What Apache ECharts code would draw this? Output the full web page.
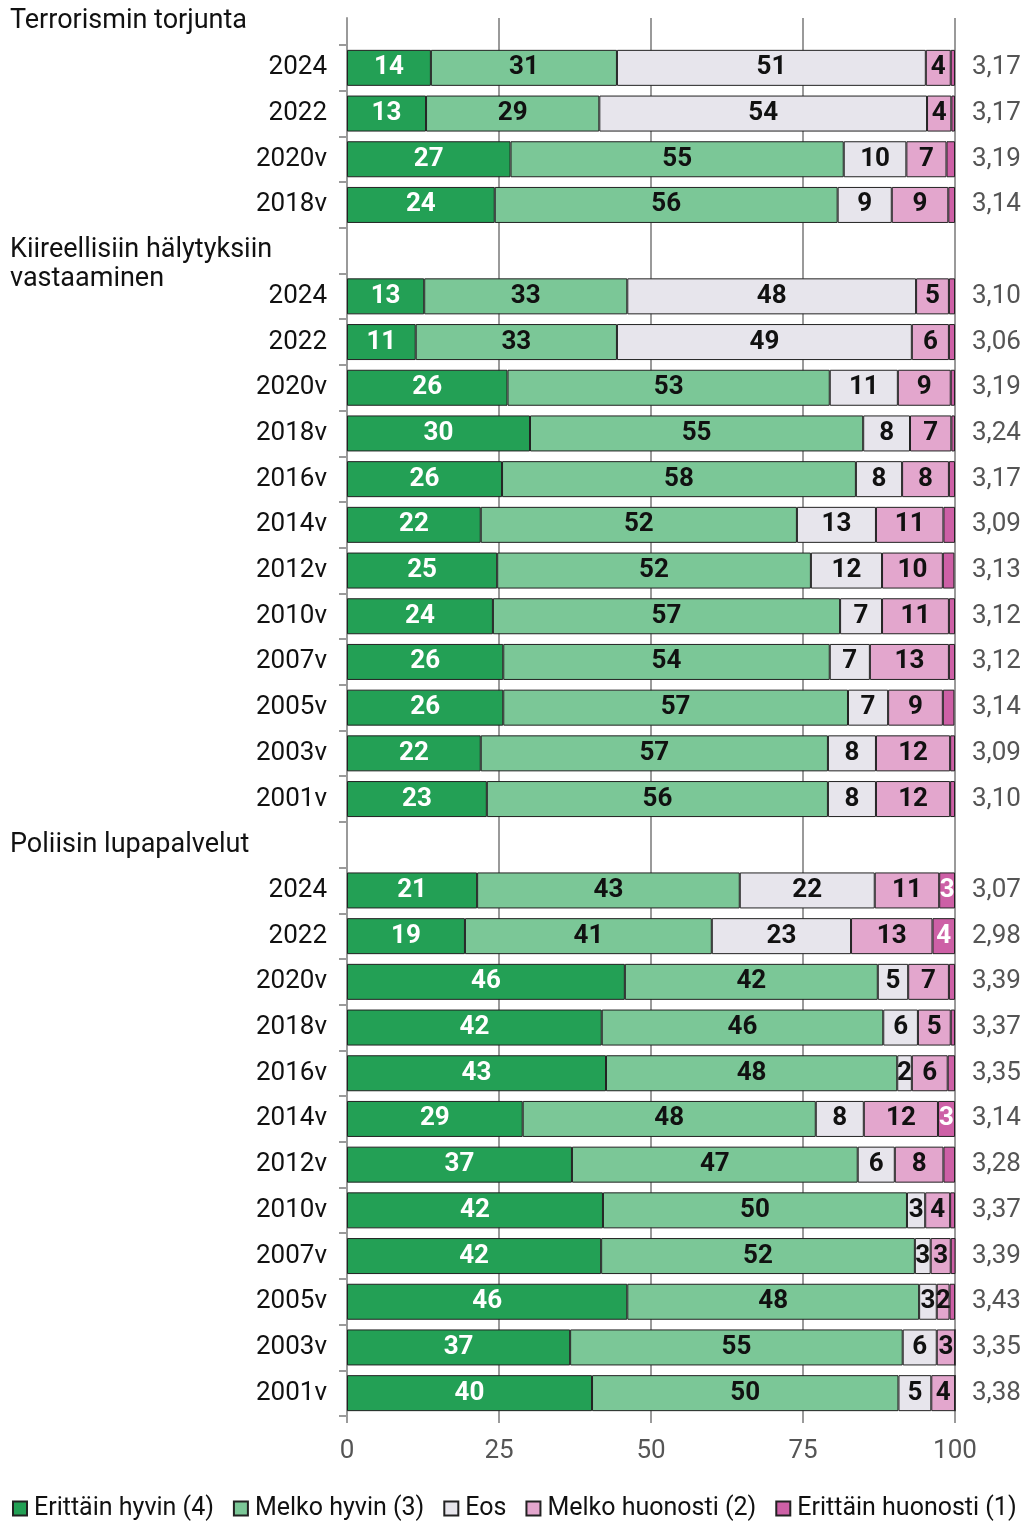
<!DOCTYPE html>
<html>
<head>
<meta charset="utf-8">
<script src="https://cdn.jsdelivr.net/npm/echarts@6/dist/echarts.min.js"></script>
<style>
html,body{margin:0;padding:0;background:#fff;}
#chart{width:1027px;height:1521px;}
</style>
</head>
<body>
<div id="chart"></div>
<script>
// ---- data ----
const rowLabels = [
  '2024','2022','2020v','2018v',
  '',
  '2024','2022','2020v','2018v','2016v','2014v','2012v','2010v','2007v','2005v','2003v','2001v',
  '',
  '2024','2022','2020v','2018v','2016v','2014v','2012v','2010v','2007v','2005v','2003v','2001v'];
const topGroupTitle = 'Terrorismin torjunta';
const groupHeaders = [
  '','','','',
  ' \nKiireellisiin hälytyksiin\nvastaaminen',
  '','','','','','','','','','','','',
  'Poliisin lupapalvelut',
  '','','','','','','','','','','',''];
const meanLabels = [
  '3,17','3,17','3,19','3,14',
  '',
  '3,10','3,06','3,19','3,24','3,17','3,09','3,13','3,12','3,12','3,14','3,09','3,10',
  '',
  '3,07','2,98','3,39','3,37','3,35','3,14','3,28','3,37','3,39','3,43','3,35','3,38'];
const seriesNames = ['Erittäin hyvin (4)','Melko hyvin (3)','Eos','Melko huonosti (2)','Erittäin huonosti (1)'];
const erittainHyvin = [13.8,13.0,26.9,24.3, null,
  12.7,11.3,26.4,30.1,25.5,22.0,24.7,24.0,25.7,25.7,22.0,23.0, null,
  21.4,19.4,45.7,41.9,42.6,28.9,37.0,42.1,41.8,46.1,36.7,40.3];
const melkoHyvin = [30.6,28.5,54.8,56.4, null,
  33.4,33.1,53.0,54.8,58.2,52.0,51.6,57.1,53.7,56.7,57.1,56.1, null,
  43.2,40.6,41.6,46.3,47.9,48.2,47.0,50.0,51.6,48.0,54.7,50.4];
const eos = [50.8,53.9,10.3,8.9, null,
  47.5,48.5,11.2,7.7,7.6,13.0,11.7,6.9,6.6,6.6,7.9,7.9, null,
  22.2,22.9,5.0,5.7,2.4,7.9,6.1,3.0,2.6,2.9,5.6,5.4];
const melkoHuonosti = [4.1,4.0,6.6,9.3, null,
  5.4,6.1,8.7,6.8,7.7,11.1,10.0,11.0,13.0,9.0,12.2,12.2, null,
  10.6,13.4,6.7,5.4,5.9,12.2,8.0,4.1,3.3,2.1,3.0,3.9];
const erittainHuonosti = [0.7,0.6,1.4,1.1, null,
  1.0,1.0,0.7,0.6,1.0,1.9,1.9,1.0,1.0,1.9,0.8,0.8, null,
  2.6,3.7,1.0,0.7,1.2,2.8,1.9,0.8,0.8,0.9,0,0];
const xTicks = [0,25,50,75,100];

// ---- styles ----
const FONT = 'Roboto';
const colors = ['#23a055','#7bc797','#e7e5ec','#e3a6cd','#cd60a6'];
const labelColors = ['#ffffff','#111111','#111111','#111111','#ffffff'];
const values = [erittainHyvin, melkoHyvin, eos, melkoHuonosti, erittainHuonosti];

const chart = echarts.init(document.getElementById('chart'), null, {renderer:'canvas'});
const series = values.map((d,i)=>({
  name: seriesNames[i],
  type: 'bar',
  stack: 'total',
  xAxisIndex: 0, yAxisIndex: 0,
  barWidth: 36,
  data: d,
  itemStyle: {color: colors[i], borderColor: '#222', borderWidth: 1},
  label: {
    show: true, position: 'inside',
    formatter: p => (p.value != null && p.value >= 2) ? String(Math.round(p.value)) : '',
    color: labelColors[i], fontFamily: FONT, fontSize: 26, fontWeight: 'bold'
  },
  emphasis: {disabled: true},
  animation: false
}));

const option = {
  animation: false,
  textStyle: {fontFamily: FONT},
  title: {
    text: topGroupTitle, left: 10, top: 8, padding: 0,
    textStyle: {fontFamily: FONT, fontSize: 27, fontWeight: 'normal', color: '#111'}
  },
  legend: {
    data: seriesNames, left: 12, top: 1496, icon: 'rect', padding: 0,
    width: 1015,
    itemWidth: 14, itemHeight: 14, itemGap: 19,
    textStyle: {fontFamily: FONT, fontSize: 25, color: '#111', padding: [0, 0, 0, 2]},
    selectedMode: false
  },
  grid: [
    {left: 347, right: 72, top: 45, height: 1371},
    {left: 347, right: 72, top: 18, height: 27}
  ],
  xAxis: [
    {
      type: 'value', gridIndex: 0, min: xTicks[0], max: xTicks[xTicks.length-1], interval: 25,
      axisLine: {show: false},
      axisTick: {show: true, length: 7, lineStyle: {color: '#9a9a9a', width: 2}},
      splitLine: {show: true, lineStyle: {color: '#9a9a9a', width: 2}},
      axisLabel: {color: '#555', fontFamily: FONT, fontSize: 26, margin: 22}
    },
    {
      type: 'value', gridIndex: 1, min: xTicks[0], max: xTicks[xTicks.length-1], interval: 25,
      axisLine: {show: false}, axisTick: {show: false}, axisLabel: {show: false},
      splitLine: {show: true, lineStyle: {color: '#9a9a9a', width: 2}}
    }
  ],
  yAxis: [
    {
      type: 'category', gridIndex: 0, inverse: true, position: 'left', data: rowLabels,
      axisLine: {show: true, lineStyle: {color: '#9a9a9a', width: 2}},
      axisTick: {show: true, length: 8, lineStyle: {color: '#9a9a9a', width: 2}},
      axisLabel: {interval: 0, color: '#111', fontFamily: FONT, fontSize: 26, margin: 20}
    },
    {
      type: 'category', gridIndex: 0, inverse: true, position: 'right', data: meanLabels,
      axisLine: {show: false}, axisTick: {show: false},
      axisLabel: {interval: 0, color: '#555', fontFamily: FONT, fontSize: 26, margin: 17}
    },
    {
      type: 'category', gridIndex: 0, inverse: true, position: 'left', data: groupHeaders,
      axisLine: {show: false}, axisTick: {show: false},
      axisLabel: {interval: 0, color: '#111', fontFamily: FONT, fontSize: 27, margin: 337,
        align: 'left', lineHeight: 29}
    },
    {
      type: 'category', gridIndex: 1, data: [''],
      axisLine: {show: true, lineStyle: {color: '#9a9a9a', width: 2}},
      axisTick: {show: false}, axisLabel: {show: false}
    }
  ],
  series: series
};
chart.setOption(option);
</script>
</body>
</html>
